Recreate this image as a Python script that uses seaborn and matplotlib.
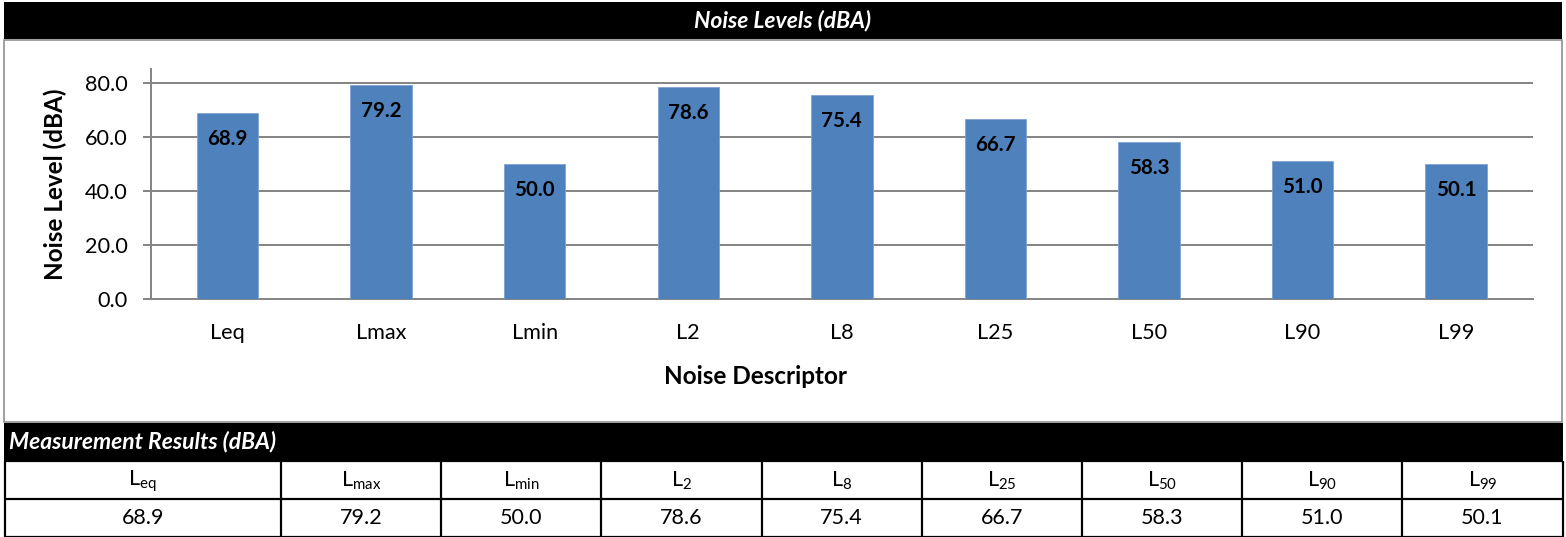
import matplotlib
matplotlib.use("Agg")
import matplotlib.pyplot as plt
from matplotlib.patches import Rectangle
import seaborn as sns

# Noise descriptors and measured levels (dBA)
categories = ["Leq", "Lmax", "Lmin", "L2", "L8", "L25", "L50", "L90", "L99"]
levels = [68.9, 79.2, 50.0, 78.6, 75.4, 66.7, 58.3, 51.0, 50.1]
subscripts = ["eq", "max", "min", "2", "8", "25", "50", "90", "99"]
y_ticks = [0, 20, 40, 60, 80]

sns.set_style("white")
plt.rcParams["font.family"] = ["Lato", "DejaVu Sans"]
plt.rcParams["mathtext.fontset"] = "custom"
plt.rcParams["mathtext.rm"] = "Lato"
plt.rcParams["mathtext.it"] = "Lato:italic"
plt.rcParams["mathtext.bf"] = "Lato:bold"

W, H = 1566, 537
DPI = 100
PT = 72 / DPI  # points per pixel

fig = plt.figure(figsize=(W / DPI, H / DPI), dpi=DPI)
fig.patch.set_facecolor("white")

# Background layer in pixel coordinates for banners, frame and table
bg = fig.add_axes([0, 0, 1, 1], zorder=0)
bg.set_xlim(0, W)
bg.set_ylim(H, 0)
bg.axis("off")

GRID = "#868686"
BAR = "#4F81BD"

# Title banner
bg.add_patch(Rectangle((4, 2), 1558, 37, facecolor="black", edgecolor="none"))
bg.text(783, 21, "Noise Levels (dBA)", color="white", fontsize=16.5,
        fontweight="bold", fontstyle="italic", ha="center", va="center")

# Chart frame
bg.add_patch(Rectangle((4, 40), 1558, 382, facecolor="white",
                       edgecolor="#8a8a8a", linewidth=1.6 * PT))

# Results banner
bg.add_patch(Rectangle((4, 423), 1559, 38, facecolor="black", edgecolor="none"))
bg.text(9, 442, "Measurement Results (dBA)", color="white", fontsize=16.5,
        fontweight="bold", fontstyle="italic", ha="left", va="center")

# Results table
left, right = 4.5, 1562.5
top, mid, bottom = 461, 499, 536.5
first_w = 281
col_w = (right - first_w) / (len(categories) - 1)
edges = [left, first_w] + [first_w + col_w * k for k in range(1, len(categories) - 1)] + [right]
lw_tab = 2.2 * PT
for yy in (top, mid, bottom):
    bg.plot([left, right], [yy, yy], color="black", lw=lw_tab, solid_capstyle="butt")
for xx in edges:
    bg.plot([xx, xx], [top, bottom], color="black", lw=lw_tab, solid_capstyle="butt")
for k, (sub, val) in enumerate(zip(subscripts, levels)):
    cx = (edges[k] + edges[k + 1]) / 2
    bg.text(cx, (top + mid) / 2 + 1, r"L$_{\mathrm{" + sub + r"}}$", fontsize=15.5,
            ha="center", va="center", color="black")
    bg.text(cx, (mid + bottom) / 2, f"{val:.1f}", fontsize=15.5,
            ha="center", va="center", color="black")

# Bar chart
ax_l, ax_r = 150.7, 1533
ax_t, ax_b = 69, 299
ax = fig.add_axes([ax_l / W, 1 - ax_b / H, (ax_r - ax_l) / W, (ax_b - ax_t) / H], zorder=2)
ax.set_facecolor("none")

sns.barplot(x=categories, y=levels, color=BAR, saturation=1, width=0.4,
            edgecolor="#7fa3d1", linewidth=0.6, ax=ax, zorder=3)

ax.set_ylim(0, 85.2)
ax.set_xlim(-0.5, len(categories) - 0.5)
ax.set_yticks(y_ticks)
ax.set_yticklabels([f"{t:.1f}" for t in y_ticks])
for t in y_ticks[1:]:
    ax.axhline(t, color=GRID, lw=2 * PT, zorder=1)

for side in ("top", "right"):
    ax.spines[side].set_visible(False)
for side in ("left", "bottom"):
    ax.spines[side].set_color(GRID)
    ax.spines[side].set_linewidth(2 * PT)

ax.tick_params(axis="y", length=8 * PT, width=2 * PT, color=GRID, pad=11,
               labelsize=15.6, labelcolor="black", left=True)
ax.tick_params(axis="x", length=0, pad=17, labelsize=15.6, labelcolor="black")

for i, v in enumerate(levels):
    ax.annotate(f"{v:.1f}", xy=(i, v), xytext=(0, -26 * PT), textcoords="offset points",
                ha="center", va="center", fontsize=14.8, fontweight="bold", color="black",
                zorder=4)

ax.set_xlabel("Noise Descriptor", fontsize=17.5, fontweight="bold", color="black")
ax.xaxis.set_label_coords((755 - ax_l) / (ax_r - ax_l), -(377 - ax_b) / (ax_b - ax_t))
ax.xaxis.label.set_va("center")
ax.set_ylabel("Noise Level (dBA)", fontsize=17.5, fontweight="bold", color="black")
ax.yaxis.set_label_coords(-(ax_l - 55) / (ax_r - ax_l), 0.5)
ax.yaxis.label.set_va("center")
ax.yaxis.label.set_ha("center")

fig.savefig("out.png", dpi=DPI, facecolor="white")
